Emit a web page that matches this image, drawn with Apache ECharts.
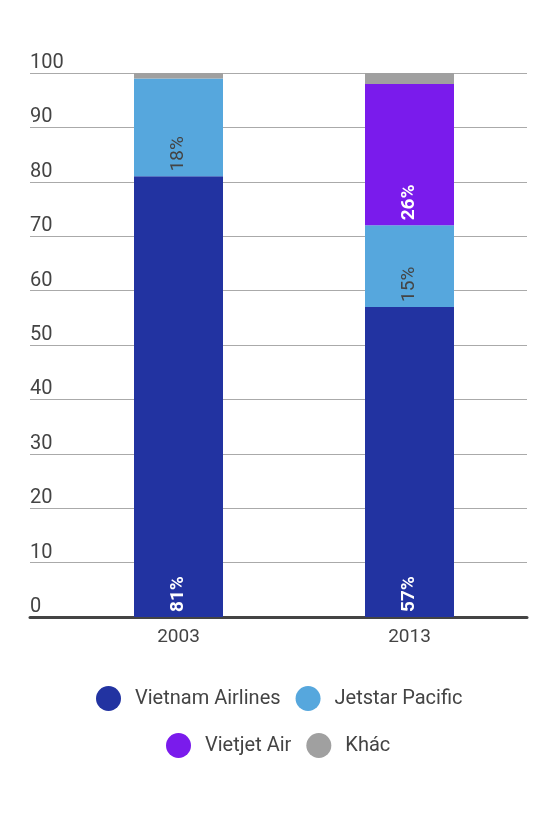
<!DOCTYPE html>
<html>
<head>
<meta charset="utf-8">
<script src="https://cdn.jsdelivr.net/npm/echarts@6/dist/echarts.min.js"></script>
<style>
  html, body { margin: 0; padding: 0; background: #fff; }
  #main { width: 560px; height: 819px; }
</style>
</head>
<body>
<div id="main"></div>
<script>
var years = ['2003', '2013'];
var vietnamAirlines = [81, 57];
var jetstarPacific = [18, 15];
var vietjetAir = ['-', 26];
var khac = [1, 2];
var yTicks = { min: 0, max: 100, step: 10 };

var FONT = 'Roboto';

function barLabel(color, bold) {
    return {
        show: true,
        position: 'insideBottom',
        rotate: 90,
        align: 'left',
        verticalAlign: 'middle',
        distance: 5,
        formatter: '{c}%',
        color: color,
        fontFamily: FONT,
        fontSize: 19,
        fontWeight: bold ? 'bold' : 'normal'
    };
}

var legendBase = {
    icon: 'circle',
    itemWidth: 25,
    itemHeight: 25,
    itemGap: 15,
    padding: 0,
    textStyle: { color: '#444', fontFamily: FONT, fontSize: 20, padding: [0, 0, 0, 9] }
};

var chart = echarts.init(document.getElementById('main'));
chart.setOption({
    animation: false,
    textStyle: { fontFamily: FONT },
    grid: [
        // background grid: gridlines + y labels, full width
        { left: 30, right: 33, top: 73, bottom: 202 },
        // bars
        { left: 63, right: 35, top: 73, bottom: 202 }
    ],
    legend: [
        Object.assign({}, legendBase, { left: 96, top: 686, data: ['Vietnam Airlines', 'Jetstar Pacific'] }),
        Object.assign({}, legendBase, { left: 166, top: 733, data: ['Vietjet Air', 'Khác'] })
    ],
    xAxis: [
        {
            gridIndex: 0,
            type: 'category',
            data: [''],
            axisLine: { show: true, lineStyle: { color: '#444', width: 3 } },
            axisTick: { show: false },
            axisLabel: { show: false }
        },
        {
            gridIndex: 1,
            type: 'category',
            data: years,
            axisLine: { show: false },
            axisTick: { show: false },
            axisLabel: { color: '#444', fontSize: 19, margin: 11 }
        }
    ],
    yAxis: [
        {
            gridIndex: 0,
            type: 'value',
            min: yTicks.min,
            max: yTicks.max,
            interval: yTicks.step,
            axisLine: { show: false },
            axisTick: { show: false },
            splitLine: { lineStyle: { color: '#aaa', width: 1 } },
            axisLabel: {
                inside: true,
                margin: 0,
                verticalAlign: 'bottom',
                lineHeight: 20,
                color: '#444',
                fontSize: 20,
                showMinLabel: true
            }
        },
        {
            gridIndex: 1,
            type: 'value',
            min: yTicks.min,
            max: yTicks.max,
            interval: yTicks.step,
            show: false
        }
    ],
    series: [
        {
            name: 'Vietnam Airlines', type: 'bar', stack: 'share',
            xAxisIndex: 1, yAxisIndex: 1, barWidth: 89,
            itemStyle: { color: '#2233a1' },
            label: barLabel('#fff', true),
            data: vietnamAirlines
        },
        {
            name: 'Jetstar Pacific', type: 'bar', stack: 'share',
            xAxisIndex: 1, yAxisIndex: 1, barWidth: 89,
            itemStyle: { color: '#56a7dd' },
            label: barLabel('#444', false),
            data: jetstarPacific
        },
        {
            name: 'Vietjet Air', type: 'bar', stack: 'share',
            xAxisIndex: 1, yAxisIndex: 1, barWidth: 89,
            itemStyle: { color: '#7a1bec' },
            label: barLabel('#fff', true),
            data: vietjetAir
        },
        {
            name: 'Khác', type: 'bar', stack: 'share',
            xAxisIndex: 1, yAxisIndex: 1, barWidth: 89,
            itemStyle: { color: '#a0a0a0' },
            data: khac
        }
    ]
});
</script>
</body>
</html>
